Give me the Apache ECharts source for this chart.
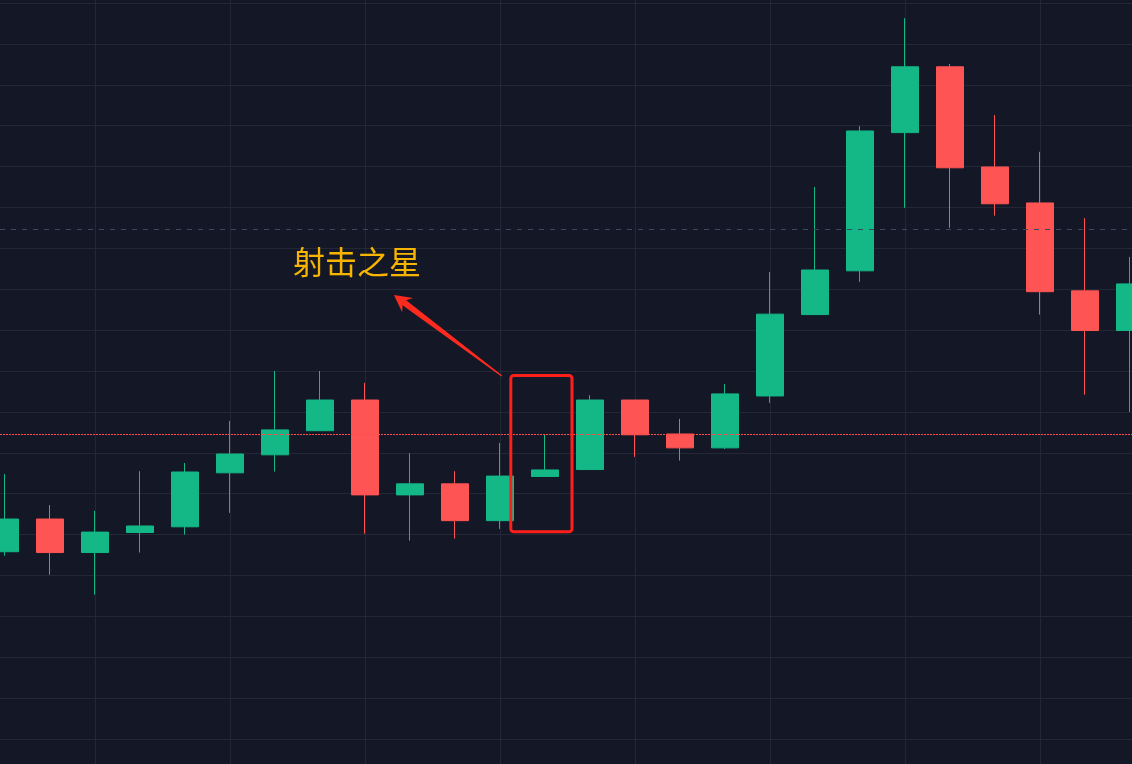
<!DOCTYPE html>
<html>
<head>
<meta charset="utf-8">
<script src="https://cdn.jsdelivr.net/npm/echarts@6/dist/echarts.min.js"></script>
<style>
html,body{margin:0;padding:0;background:#141826;}
#chart{width:1132px;height:764px;}
</style>
</head>
<body>
<div id="chart"></div>
<script>
// ---- data ----
const categories = ['1','2','3','4','5','6','7','8','9','10','11','12','13','14','15','16','17','18','19','20','21','22','23','24','25','26'];
// [open, close, low, high]
const opens  = [145.8,153.8,145.6,150.5,151.9,165.1,169.5,175.4,182.9,159.7,162.4,153.4,164.2,165.9,182.9,174.6,171.2,183.9,203.8,214.5,248.3,264.4,239.9,231.1,209.6,199.9];
const closes = [153.8,145.6,150.6,152.1,165.3,169.7,175.6,182.9,159.7,162.4,153.4,164.3,165.8,182.9,174.4,171.2,184.4,203.9,214.7,248.7,264.4,239.7,230.9,209.4,199.9,211.3];
const lows   = [144.8,140.2,135.3,145.6,150.0,155.3,165.4,175.4,150.2,148.5,149.0,151.4,164.2,165.9,169.0,168.1,170.9,182.2,203.8,211.8,229.9,225.0,228.0,203.8,184.2,180.0];
const highs  = [164.8,157.2,155.8,165.5,167.5,177.8,190.0,190.0,187.1,169.9,165.5,172.4,174.4,184.1,182.9,178.3,186.8,214.2,235.0,249.9,276.3,265.1,252.6,243.6,227.4,217.9];
const yTicks = {min: 100, max: 280, interval: 10};
const refLineRed = 174.5;
const refLineGray = 224.7;
const annotationText = '射击之星';

const candleData = categories.map((c, i) => [opens[i], closes[i], lows[i], highs[i]]);

// annotation anchors (category index, value)
const labelAnchor = [7.82, 216.6];
const arrowTail = [11.04, 188.8];
const arrowTip = [8.644, 208.6];
const boxFrom = [11.24, 188.9];
const boxTo = [12.6, 150.7];

const UP = '#13b886', DOWN = '#fe5454', GRID = '#242836';

const chart = echarts.init(document.getElementById('chart'));
chart.setOption({
  backgroundColor: '#141826',
  animation: false,
  grid: [
    {left: 5, right: 2, top: 3, bottom: 25},
    {left: 5, right: 2, top: 0, bottom: 0},
    {left: 0, right: 0, top: 3, bottom: 25}
  ],
  xAxis: [
    {type: 'category', gridIndex: 0, data: categories, boundaryGap: false,
     axisLine: {show: false}, axisTick: {show: false}, axisLabel: {show: false}, splitLine: {show: false}},
    {type: 'category', gridIndex: 1, data: categories, boundaryGap: false,
     axisLine: {show: false}, axisTick: {show: false}, axisLabel: {show: false},
     splitLine: {show: true, interval: function (idx) { return idx % 3 === 2; }, lineStyle: {color: GRID, width: 1}}},
    {type: 'value', gridIndex: 2, min: 0, max: 1, show: false}
  ],
  yAxis: [
    {type: 'value', gridIndex: 0, min: yTicks.min, max: yTicks.max, interval: yTicks.interval,
     axisLine: {show: false}, axisTick: {show: false}, axisLabel: {show: false}, splitLine: {show: false}},
    {type: 'value', gridIndex: 1, min: 0, max: 1, show: false, splitLine: {show: false}},
    {type: 'value', gridIndex: 2, min: yTicks.min, max: yTicks.max, interval: yTicks.interval,
     axisLine: {show: false}, axisTick: {show: false}, axisLabel: {show: false},
     splitLine: {show: true, lineStyle: {color: GRID, width: 1}}}
  ],
  series: [
    {
      type: 'candlestick', xAxisIndex: 0, yAxisIndex: 0, clip: false,
      barWidth: 28,
      data: candleData,
      itemStyle: {color: UP, color0: DOWN, borderColor: UP, borderColor0: DOWN, borderWidth: 1}
    },
    {
      type: 'line', xAxisIndex: 2, yAxisIndex: 2, data: [], z: 10,
      markLine: {
        symbol: ['none', 'none'], silent: true, label: {show: false}, z: 10,
        data: [
          {yAxis: refLineRed, lineStyle: {color: '#ff4d4d', width: 1, type: [2, 1]}},
          {yAxis: refLineGray, lineStyle: {color: '#3a4760', width: 1, type: [5, 6]}}
        ]
      }
    }
  ]
});

function px(pt) {
  const a = chart.convertToPixel({xAxisIndex: 0, yAxisIndex: 0}, [0, pt[1]]);
  const b = chart.convertToPixel({xAxisIndex: 0, yAxisIndex: 0}, [1, pt[1]]);
  return [a[0] + (b[0] - a[0]) * pt[0], a[1]];
}

const L = px(labelAnchor), T = px(arrowTail), P = px(arrowTip);
const B0 = px(boxFrom), B1 = px(boxTo);
const dx = P[0] - T[0], dy = P[1] - T[1];
const len = Math.hypot(dx, dy);
const ux = dx / len, uy = dy / len, nx = -uy, ny = ux;
function at(d, w) { return [T[0] + ux * d + nx * w, T[1] + uy * d + ny * w]; }
const headLen = 17, neck = len - 13;
const arrowPts = [
  at(0, 0.6), at(neck, 3), at(len - headLen, 9), at(len, 0),
  at(len - headLen, -9), at(neck, -3), at(0, -0.6)
];

chart.setOption({
  graphic: [
    {type: 'polygon', z: 100, shape: {points: arrowPts}, style: {fill: '#ff2a1f'}},
    {type: 'rect', z: 100,
     shape: {x: B0[0], y: B0[1], width: B1[0] - B0[0], height: B1[1] - B0[1], r: 3},
     style: {fill: 'none', stroke: '#ff1f1a', lineWidth: 3}},
    {type: 'text', z: 100, x: L[0], y: L[1],
     style: {text: annotationText, fill: '#f7b500', font: '32px "Noto Sans CJK SC"', textAlign: 'center', textVerticalAlign: 'middle'}}
  ]
});
</script>
</body>
</html>
